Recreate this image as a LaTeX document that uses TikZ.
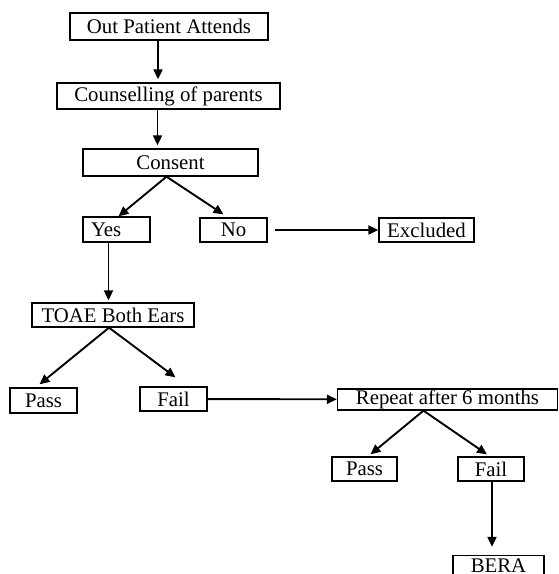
\documentclass[tikz,border=0pt]{standalone}
\usepackage{fontspec}
\setmainfont{Liberation Serif}
\usepackage{tikz}
\usetikzlibrary{arrows.meta}

\begin{document}
\begin{tikzpicture}[
    x=0.5pt, y=-0.5pt,
    box/.style={rectangle, draw, line width=0.65pt, inner sep=0pt, minimum height=12pt, font=\fontsize{10.4}{12}\selectfont},
    arr/.style={line width=0.95pt, -{Triangle[length=5pt,width=4.5pt]}}
]
\useasboundingbox (0,0) rectangle (558,574);
\clip (0,0) rectangle (558,574);

% Boxes (top to bottom)
\node[box, minimum width=99pt, minimum height=13.5pt] (attend) at (169,26.5) {Out Patient Attends};
\node[box, minimum width=111.5pt, minimum height=13pt] (counsel) at (168.5,96) {Counselling of parents};
\node[box, minimum width=87.5pt, minimum height=13.5pt] (consent) at (170.5,162.5) {Consent};
\node[box, minimum height=12.5pt, text width=25.5pt, inner xsep=4pt, align=left] (yes) at (116.5,229.5) {Yes};
\node[box, minimum width=33.5pt] (no) at (233.5,230) {No};
\node[box, minimum width=47.5pt] (excluded) at (426.5,230) {Excluded};
\node[box, minimum width=81pt] (toae) at (113,315) {TOAE Both Ears};
\node[box, minimum width=33.5pt, minimum height=12.5pt] (pass) at (43.5,400.5) {Pass};
\node[box, minimum width=33.5pt] (fail) at (173.5,399) {Fail};
\node[box, minimum width=110pt, minimum height=10.5pt] (repeat) at (447.5,399.5) {Repeat after 6 months};
\node[box, minimum width=32.5pt] (passtwo) at (364.5,469) {Pass};
\node[box, minimum width=33pt] (failtwo) at (491,469) {Fail};
\node[box, minimum width=45.5pt, minimum height=10pt] (bera) at (498.5,565.5) {BERA};

% Connectors
\draw[arr] ([xshift=-5.5pt]attend.south) -- ([xshift=-5.5pt,yshift=1.5pt]attend.south |- counsel.north);
\draw[arr] ([xshift=-5.5pt]counsel.south) -- ([xshift=-5.5pt,yshift=1.5pt]counsel.south |- consent.north);
\draw[arr] ([xshift=-2pt]consent.south) -- ([xshift=1pt]yes.north);
\draw[arr] ([xshift=-2pt]consent.south) -- ([xshift=-5pt,yshift=1.5pt]no.north);
\draw[arr, shorten <=3.5pt] (no) -- (excluded);
\draw[arr] ([xshift=-4pt]yes.south) -- ([xshift=-4pt,yshift=1pt]yes.south |- toae.north);
\draw[arr] ([xshift=-2pt]toae.south) -- ([xshift=-2pt,yshift=1.5pt]pass.north);
\draw[arr] ([xshift=-2pt]toae.south) -- ([xshift=1pt,yshift=4.5pt]fail.north);
\draw[arr] (fail) -- (repeat);
\draw[arr] ([xshift=-12pt]repeat.south) -- ([xshift=3pt,yshift=1pt]passtwo.north);
\draw[arr] ([xshift=-12pt]repeat.south) -- ([xshift=-2pt,yshift=1pt]failtwo.north);
\draw[arr] ([xshift=0.5pt]failtwo.south) -- ([xshift=0.5pt,yshift=4pt]failtwo.south |- bera.north);

\end{tikzpicture}
\end{document}
